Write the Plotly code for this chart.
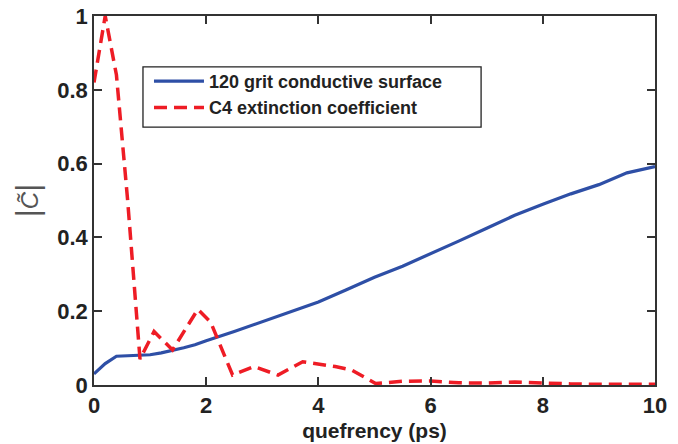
import plotly.graph_objects as go

blue_x = [0, 0.2, 0.4, 0.6, 0.8, 1.0, 1.2, 1.4, 1.6, 1.8, 2.0, 2.5, 3.0, 3.5, 4.0, 4.5, 5.0, 5.5, 6.0, 6.5, 7.0, 7.5, 8.0, 8.5, 9.0, 9.5, 10.0]
blue_y = [0.03, 0.058, 0.078, 0.079, 0.079, 0.082, 0.087, 0.093, 0.101, 0.109, 0.12, 0.145, 0.172, 0.198, 0.225, 0.258, 0.292, 0.322, 0.355, 0.39, 0.425, 0.46, 0.49, 0.518, 0.543, 0.575, 0.592]

red_x = [0, 0.2, 0.4, 0.6, 0.82, 1.07, 1.4, 1.85, 2.08, 2.47, 2.85, 3.28, 3.72, 4.3, 4.6, 5.02, 5.5, 6.0, 6.5, 7.0, 7.5, 8.0, 8.5, 9.0, 9.5, 10.0]
red_y = [0.82, 1.0, 0.84, 0.5, 0.07, 0.145, 0.095, 0.205, 0.17, 0.027, 0.05, 0.027, 0.063, 0.05, 0.04, 0.004, 0.01, 0.011, 0.006, 0.005, 0.008, 0.005, 0.003, 0.002, 0.002, 0.002]

names = ["120 grit conductive surface", "C4 extinction coefficient"]
x_ticks = [0, 2, 4, 6, 8, 10]
y_ticks = [0, 0.2, 0.4, 0.6, 0.8, 1]

FONT = "Liberation Sans, Arial, sans-serif"

fig = go.Figure()
fig.add_trace(go.Scatter(x=blue_x, y=blue_y, mode="lines", name=names[0],
                         line=dict(color="#2E4FA6", width=3.2)))
fig.add_trace(go.Scatter(x=red_x, y=red_y, mode="lines", name=names[1],
                         line=dict(color="#EE1C25", width=3.5, dash="13px,7px")))

axis_common = dict(showline=True, linecolor="#333333", linewidth=1.5, mirror="ticks",
                   ticks="inside", ticklen=8, tickwidth=1.5, tickcolor="#333333",
                   showgrid=False, zeroline=False, automargin=False,
                   tickfont=dict(family=FONT, size=22, color="#222222", weight="bold"))

# legend frame (paper coords)
fig.add_shape(type="rect", xref="paper", yref="paper",
              x0=0.0873, x1=0.690, y0=0.699, y1=0.862,
              line=dict(color="#222222", width=1.3), fillcolor="white", layer="above")

fig.update_layout(
    width=678, height=444,
    margin=dict(l=94, r=23, t=16, b=59),
    paper_bgcolor="white", plot_bgcolor="white",
    xaxis=dict(range=[0, 10], tickvals=x_ticks, ticktext=[str(v) for v in x_ticks],
               title=dict(text="quefrency (ps)", standoff=6,
                          font=dict(family=FONT, size=21, color="#222222", weight="bold")),
               **axis_common),
    yaxis=dict(range=[0, 1], tickvals=y_ticks, ticktext=["0", "0.2", "0.4", "0.6", "0.8", "1"],
               title=dict(text="<span style='font-size:31px'>|</span><i>C̃</i><span style='font-size:31px'>|</span>",
                          standoff=12,
                          font=dict(family=FONT, size=24, color="#555555")),
               **axis_common),
    legend=dict(x=0.098, y=0.873, xanchor="left", yanchor="top",
                bgcolor="rgba(0,0,0,0)", borderwidth=0,
                font=dict(family=FONT, size=18, color="#222222", weight="bold"),
                tracegroupgap=0, itemwidth=50),
    showlegend=True,
)

fig.write_html("out.html")
